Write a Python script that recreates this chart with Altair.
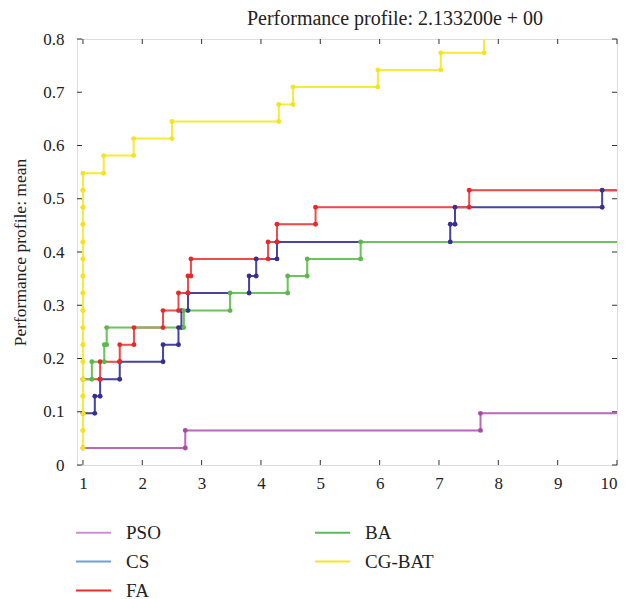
import altair as alt
import pandas as pd

# ---------------- data ----------------
algs = ["PSO", "CS", "FA", "BA", "CG-BAT"]
line_colors = ["#b86ab8", "#4a43a0", "#ee4c4c", "#6cc45c", "#f7ea38"]
dot_colors = ["#a64aa6", "#38308e", "#e42a2a", "#5cb84a", "#f2e424"]
legend_colors = ["#d08ed0", "#6f9fd8", "#e8302a", "#5cb85c", "#f5e626"]

pso_tau = [1.0, 2.725, 7.70]
pso_rho = [0.032, 0.065, 0.097]

cs_tau = [1.0, 1.20, 1.29, 1.62, 2.35, 2.61, 2.66, 2.77, 3.80, 3.92, 4.27, 7.19, 7.27, 9.75]
cs_rho = [0.097, 0.129, 0.161, 0.194, 0.226, 0.258, 0.290, 0.323, 0.355, 0.387, 0.419, 0.452, 0.484, 0.516]

fa_tau = [1.0, 1.29, 1.62, 1.86, 2.35, 2.61, 2.77, 2.82, 4.12, 4.27, 4.92, 7.51]
fa_rho = [0.161, 0.194, 0.226, 0.258, 0.290, 0.323, 0.355, 0.387, 0.419, 0.452, 0.484, 0.516]

ba_tau = [1.0, 1.15, 1.36, 1.40, 2.70, 3.48, 4.45, 4.78, 5.68]
ba_rho = [0.161, 0.194, 0.226, 0.258, 0.290, 0.323, 0.355, 0.387, 0.419]

cg_tau = [1.0, 1.0, 1.0, 1.0, 1.0, 1.0, 1.0, 1.0, 1.0, 1.0, 1.0, 1.0, 1.0, 1.0, 1.0, 1.0, 1.0,
          1.35, 1.855, 2.50, 4.30, 4.54, 5.97, 7.03, 7.76]
cg_rho = [0.032, 0.065, 0.097, 0.129, 0.161, 0.194, 0.226, 0.258, 0.290, 0.323, 0.355, 0.387,
          0.419, 0.452, 0.484, 0.516, 0.548, 0.581, 0.613, 0.645, 0.677, 0.710, 0.742, 0.774, 0.806]

x_ticks = [1, 2, 3, 4, 5, 6, 7, 8, 9, 10]
y_ticks = [0, 0.1, 0.2, 0.3, 0.4, 0.5, 0.6, 0.7, 0.8]
x_end = 10.0

series = {"PSO": (pso_tau, pso_rho), "CS": (cs_tau, cs_rho), "FA": (fa_tau, fa_rho),
          "BA": (ba_tau, ba_rho), "CG-BAT": (cg_tau, cg_rho)}

# ---------------- build stair corners ----------------
line_rows, dot_rows = [], []
for si, name in enumerate(algs):
    tau, rho = series[name]
    pts = [(tau[0], rho[0])]
    for i in range(1, len(tau)):
        pts.append((tau[i], rho[i - 1]))
        pts.append((tau[i], rho[i]))
    for k, (x, y) in enumerate(pts + [(x_end, rho[-1])]):
        line_rows.append({"alg": name, "x": x, "y": y, "k": k, "s": si,
                          "lc": line_colors[si]})
    for x, y in pts:
        dot_rows.append({"alg": name, "x": x, "y": y, "s": si, "dc": dot_colors[si]})

lines_df = pd.DataFrame(line_rows)
dots_df = pd.DataFrame(dot_rows)

FONT = "Liberation Serif"
W, H = 540, 426
TL = 5

X = alt.X("x:Q", scale=alt.Scale(domain=[0.9, 10], nice=False, zero=False),
          axis=alt.Axis(values=x_ticks, format="d", ticks=False, domain=False, grid=False,
                        title=None, labelFont=FONT, labelFontSize=17, labelColor="#222",
                        labelPadding=10))
Y = alt.Y("y:Q", scale=alt.Scale(domain=[0, 0.8], nice=False, zero=False),
          axis=alt.Axis(values=y_ticks, format="~g", ticks=False, domain=False, grid=False,
                        title="Performance profile: mean", titleFont=FONT, titleFontSize=17.5,
                        titleFontWeight="normal", titleColor="#222", titlePadding=13,
                        labelFont=FONT, labelFontSize=17, labelColor="#222", labelPadding=13))

legend_layer = alt.Chart(lines_df).mark_line(strokeWidth=1, clip=True).encode(
    x=X, y=Y,
    color=alt.Color("alg:N", scale=alt.Scale(domain=algs, range=legend_colors),
                    legend=alt.Legend(orient="none", legendX=-2, legendY=475, columns=2,
                                      columnPadding=150, rowPadding=-5, title=None,
                                      symbolType="stroke", symbolSize=1225,
                                      symbolStrokeWidth=2, labelFont=FONT, labelFontSize=19,
                                      labelColor="#222", labelOffset=14, symbolOpacity=1)),
    detail="alg:N", order="k:Q")

line_layer = alt.Chart(lines_df).mark_line(strokeWidth=2, clip=True).encode(
    x=X, y=Y, stroke=alt.Stroke("lc:N", scale=None), detail="alg:N", order="k:Q")

dot_layer = alt.Chart(dots_df).mark_point(filled=True, shape="circle", size=24, opacity=1,
                                          strokeWidth=0, clip=True).encode(
    x=X, y=Y, fill=alt.Fill("dc:N", scale=None))

xt = pd.DataFrame({"x": x_ticks})
yt = pd.DataFrame({"y": y_ticks})
tick_style = dict(color="#333", strokeWidth=1)
bottom_ticks = alt.Chart(xt).mark_rule(**tick_style).encode(x=X, y=alt.value(H), y2=alt.value(H - TL))
top_ticks = alt.Chart(xt).mark_rule(**tick_style).encode(x=X, y=alt.value(0), y2=alt.value(TL))
left_ticks = alt.Chart(yt).mark_rule(**tick_style).encode(y=Y, x=alt.value(0), x2=alt.value(TL))
right_ticks = alt.Chart(yt).mark_rule(**tick_style).encode(y=Y, x=alt.value(W - TL), x2=alt.value(W))

chart = alt.layer(legend_layer, line_layer, dot_layer,
                  bottom_ticks, top_ticks, left_ticks, right_ticks).properties(
    width=W, height=H,
    title=alt.TitleParams("Performance profile: 2.133200e + 00", font=FONT, fontSize=20,
                          fontWeight="normal", color="#222", anchor="middle", dx=48, offset=1),
    autosize=alt.AutoSizeParams(type="none"),
    padding={"left": 69, "top": 31, "right": 2, "bottom": 134},
).configure_view(stroke="#555", strokeWidth=1.5).configure(background="white")

chart.save("out.html", embed_options={"renderer": "svg", "actions": False})
